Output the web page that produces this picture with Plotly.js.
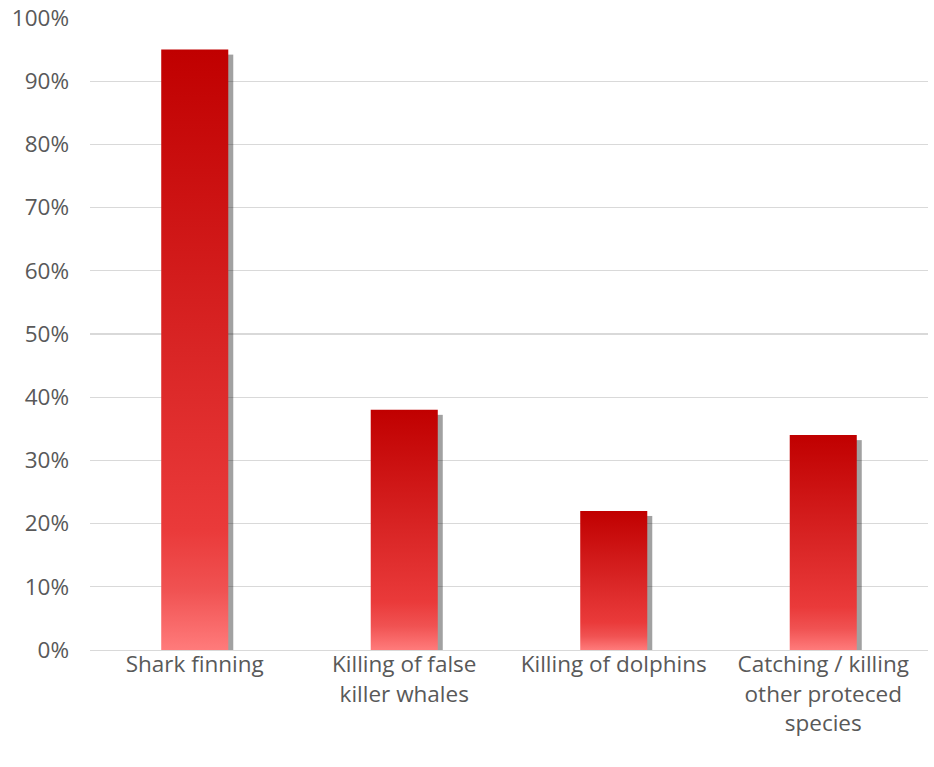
<!DOCTYPE html>
<html>
<head>
<meta charset="utf-8">
<script src="https://cdn.plot.ly/plotly-3.0.1.min.js"></script>
<style>
  html, body { margin: 0; padding: 0; background: #ffffff; }
  #chart { width: 934px; height: 767px; }
</style>
</head>
<body>
<div id="chart"></div>
<script>
// Share of respondents concerned about each practice
const categories = [
  "Shark finning",
  "Killing of false<br>killer whales",
  "Killing of dolphins",
  "Catching / killing<br>other proteced<br>species"
];
const shares = [0.95, 0.38, 0.22, 0.34];
const yTickValues = [0, 0.1, 0.2, 0.3, 0.4, 0.5, 0.6, 0.7, 0.8, 0.9, 1.0];
const yTickLabels = ["0%", "10%", "20%", "30%", "40%", "50%", "60%", "70%", "80%", "90%", "100%"];

const textFont = { family: "Open Sans, Liberation Sans, sans-serif", size: 22.5, color: "#595959" };

const trace = {
  type: "bar",
  x: categories,
  y: shares,
  marker: { color: "#c00000", line: { width: 0 } },
  hoverinfo: "none"
};

const layout = {
  width: 934,
  height: 767,
  margin: { l: 90, r: 6, t: 18, b: 117 },
  paper_bgcolor: "#ffffff",
  plot_bgcolor: "#ffffff",
  showlegend: false,
  bargap: 0.68,
  font: textFont,
  xaxis: {
    type: "category",
    showgrid: false,
    showline: true,
    linecolor: "#d9d9d9",
    linewidth: 1.3,
    ticks: "",
    ticklabelstandoff: -6,
    tickfont: textFont,
    fixedrange: true
  },
  yaxis: {
    range: [0, 1.0],
    tickvals: yTickValues,
    ticktext: yTickLabels,
    showgrid: true,
    gridcolor: "#d9d9d9",
    gridwidth: 1.3,
    zeroline: false,
    showline: false,
    ticks: "",
    ticklabelstandoff: 20,
    tickfont: textFont,
    fixedrange: true
  }
};

Plotly.newPlot("chart", [trace], layout, { displayModeBar: false, staticPlot: true }).then(function (gd) {
  const svgNS = "http://www.w3.org/2000/svg";
  const svg = gd.querySelector("svg.main-svg");

  // vertical red gradient, dark at the top fading to salmon at the base
  const defs = document.createElementNS(svgNS, "defs");
  const grad = document.createElementNS(svgNS, "linearGradient");
  grad.setAttribute("id", "barGrad");
  grad.setAttribute("x1", "0"); grad.setAttribute("y1", "0");
  grad.setAttribute("x2", "0"); grad.setAttribute("y2", "1");
  [["0", "#c00000"], ["0.5", "#d92525"], ["0.8", "#ea3a3a"], ["0.9", "#f05252"], ["1", "#ff7b7b"]].forEach(function (s) {
    const stop = document.createElementNS(svgNS, "stop");
    stop.setAttribute("offset", s[0]);
    stop.setAttribute("stop-color", s[1]);
    grad.appendChild(stop);
  });
  defs.appendChild(grad);
  svg.insertBefore(defs, svg.firstChild);

  // fill each bar with the gradient and put a soft grey shadow behind it
  gd.querySelectorAll(".barlayer .point path").forEach(function (p) {
    const b = p.getBBox();
    const shadow = document.createElementNS(svgNS, "rect");
    shadow.setAttribute("x", b.x + 6);
    shadow.setAttribute("y", b.y + 5);
    shadow.setAttribute("width", b.width - 1);
    shadow.setAttribute("height", b.height - 3);
    shadow.setAttribute("fill", "rgba(0,0,0,0.37)");
    p.parentNode.insertBefore(shadow, p);
    p.style.fill = "url(#barGrad)";
    p.style.fillOpacity = 1;
  });
});
</script>
</body>
</html>
